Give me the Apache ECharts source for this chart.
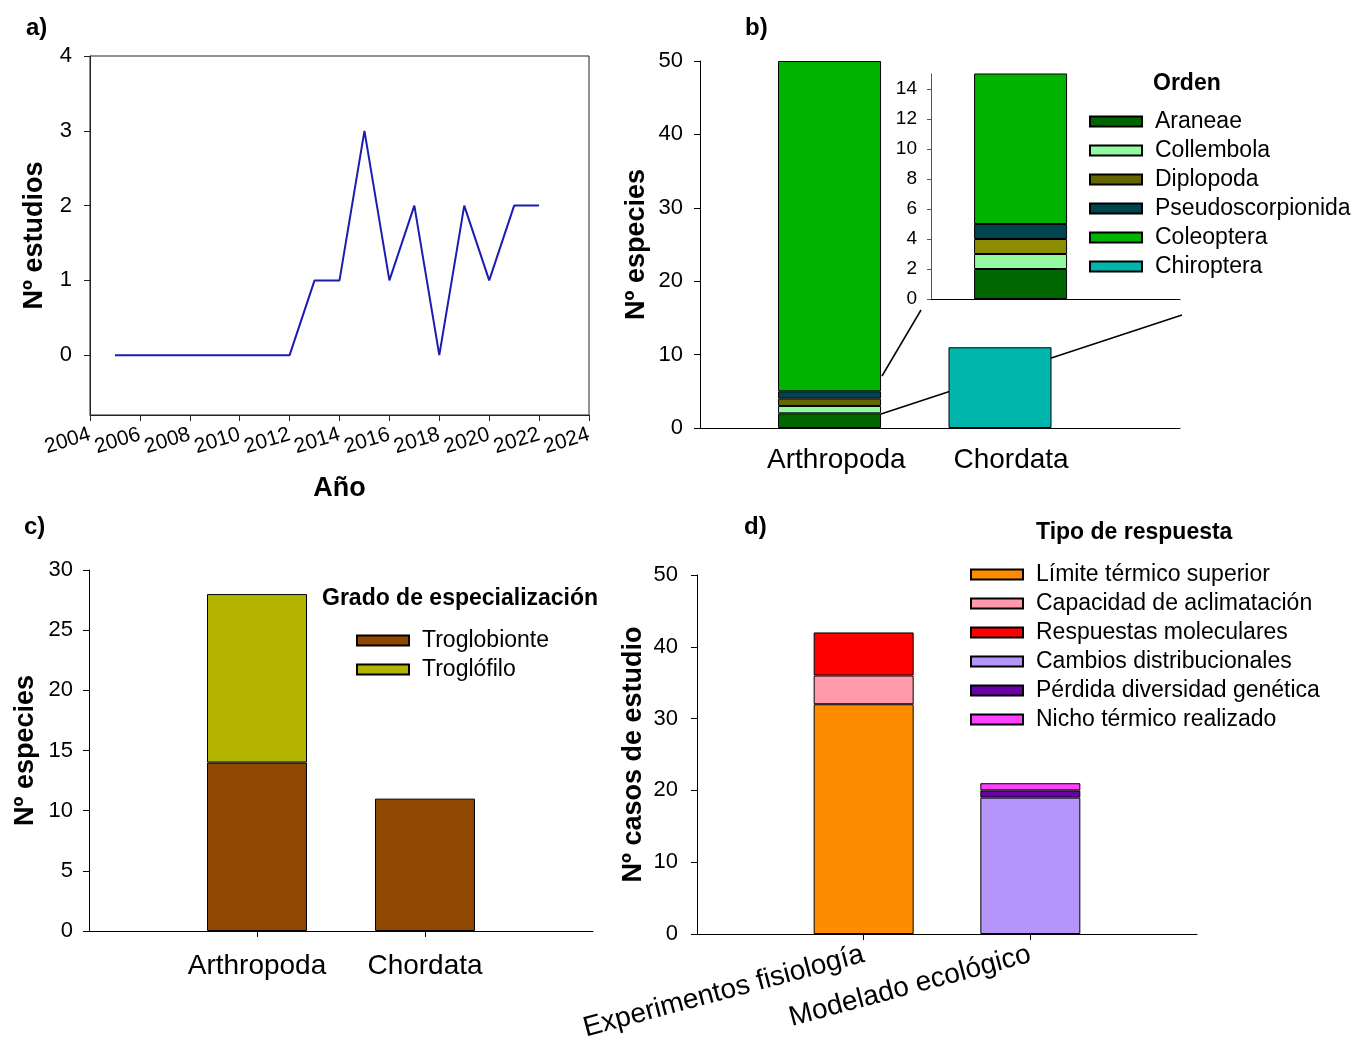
<!DOCTYPE html>
<html>
<head>
<meta charset="utf-8">
<script src="https://cdn.jsdelivr.net/npm/echarts@6/dist/echarts.min.js"></script>
<style>
  html, body { margin: 0; padding: 0; background: #fff; }
  #main { width: 1368px; height: 1041px; }
</style>
</head>
<body>
<div id="main"></div>
<script>
// a) studies per year
var years = [2005, 2006, 2007, 2008, 2009, 2010, 2011, 2012, 2013, 2014, 2015, 2016, 2017, 2018, 2019, 2020, 2021, 2022];
var studies = [0, 0, 0, 0, 0, 0, 0, 0, 1, 1, 3, 1, 2, 0, 2, 1, 2, 2];
var yearTicks = [2004, 2006, 2008, 2010, 2012, 2014, 2016, 2018, 2020, 2022, 2024];

// b) species per order
var phyla = ['Arthropoda', 'Chordata'];
var orden = ['Araneae', 'Collembola', 'Diplopoda', 'Pseudoscorpionida', 'Coleoptera', 'Chiroptera'];
var ordenCount = [2, 1, 1, 1, 45, 11];
var ordenPhylum = [0, 0, 0, 0, 0, 1];
var ordenColor = ['#006600', '#93fb9f', '#666600', '#00444f', '#00b300', '#00b5ab'];
var ordenInsetColor = ['#006600', '#93fb9f', '#8c8c00', '#00444f', '#00b300', '#00b5ab'];

// c) degree of specialization (Arthropoda, Chordata)
var grado = ['Troglobionte', 'Troglófilo'];
var gradoCount = [[14, 11], [14, 0]];
var gradoColor = ['#904800', '#b4b400'];

// d) response type
var estudio = ['Experimentos fisiología', 'Modelado ecológico'];
var respuesta = ['Límite térmico superior', 'Capacidad de aclimatación', 'Respuestas moleculares',
  'Cambios distribucionales', 'Pérdida diversidad genética', 'Nicho térmico realizado'];
var respuestaCount = [32, 4, 6, 19, 1, 1];
var respuestaEstudio = [0, 0, 0, 1, 1, 1];
var respuestaColor = ['#ff8c00', '#ff99ab', '#ff0000', '#b496fa', '#6a00a8', '#ff40ff'];

var FONT = 'Liberation Sans';
var black = '#000';

// [value, slot] rows so the value column is the stacked one
function slots(values) {
  return values.map(function (v, i) { return [v > 0 ? v : '-', i + 1]; });
}
function single(index, value) {
  return slots([0, 1].map(function (k) { return k === index ? value : 0; }));
}

function valAxis(grid, min, max, interval, name, gap, extra) {
  var ax = {
    type: 'value', gridIndex: grid, min: min, max: max, interval: interval,
    name: name, nameLocation: 'middle', nameGap: gap,
    nameTextStyle: { fontSize: 27, fontWeight: 'bold', color: black, fontFamily: FONT },
    axisLine: { show: true, onZero: false, lineStyle: { color: black, width: 1 } },
    axisTick: { show: true, length: 6, lineStyle: { color: black } },
    axisLabel: { fontSize: 22, color: black, margin: 17, fontFamily: FONT },
    splitLine: { show: false }
  };
  return Object.assign(ax, extra || {});
}

function catAxis(grid, min, max, labels, opts) {
  opts = opts || {};
  return {
    type: 'value', gridIndex: grid, min: min, max: max,
    axisLine: { show: true, onZero: false, lineStyle: { color: black, width: 1 } },
    axisTick: { show: opts.ticks !== false, length: 6, customValues: [1, 2], lineStyle: { color: black } },
    axisLabel: {
      show: labels !== null, customValues: opts.labelAt || [1, 2], fontSize: 28, color: black,
      margin: opts.margin || 18, rotate: opts.rotate || 0, fontFamily: FONT,
      formatter: function (v) { return labels ? labels[Math.round(v) - 1] : ''; }
    },
    splitLine: { show: false }
  };
}

function bar(name, grid, stack, width, color, data, extra) {
  return Object.assign({
    type: 'bar', name: name, xAxisIndex: grid, yAxisIndex: grid,
    stack: stack, barWidth: width, encode: { x: 1, y: 0 },
    itemStyle: { color: color, borderColor: black, borderWidth: 1 },
    data: data
  }, extra || {});
}

var series = [];

series.push({
  type: 'line', xAxisIndex: 0, yAxisIndex: 0,
  data: years.map(function (y, i) { return [y, studies[i]]; }),
  symbol: 'none', lineStyle: { color: '#1c1cb0', width: 2 }
});

orden.forEach(function (name, i) {
  series.push(bar(name, 1, 'b', 103, ordenColor[i], single(ordenPhylum[i], ordenCount[i])));
  if (ordenPhylum[i] === 0) {
    series.push(bar(name, 2, 'inset', 93, ordenInsetColor[i], single(ordenPhylum[i], ordenCount[i]), { clip: true }));
  }
});

grado.forEach(function (name, i) {
  series.push(bar(name, 3, 'c', 100, gradoColor[i], slots(gradoCount[i])));
});

respuesta.forEach(function (name, i) {
  series.push(bar(name, 4, 'd', 100, respuestaColor[i], single(respuestaEstudio[i], respuestaCount[i])));
});

function legend(names, left, top) {
  return {
    data: names, orient: 'vertical', left: left, top: top, itemGap: 0, padding: 0,
    itemWidth: 52, itemHeight: 10, icon: 'rect', selectedMode: false,
    textStyle: { fontSize: 23, color: black, lineHeight: 29, fontFamily: FONT, padding: [0, 0, 0, 8] }
  };
}

function label(text, left, top, size) {
  return { text: text, left: left, top: top, padding: 0,
    textStyle: { fontSize: size, fontWeight: 'bold', color: black, fontFamily: FONT } };
}

function grid(left, top, width, height, extra) {
  return Object.assign({ left: left, top: top, width: width, height: height, outerBoundsMode: 'none' }, extra || {});
}

var chart = echarts.init(document.getElementById('main'));
chart.setOption({
  animation: false,
  backgroundColor: '#fff',
  textStyle: { fontFamily: FONT },
  title: [
    label('a)', 26, 16, 24), label('b)', 745, 16, 24), label('c)', 24, 515, 24), label('d)', 744, 515, 24),
    label('Orden', 1153, 72, 23),
    label('Grado de especialización', 322, 587, 23),
    label('Tipo de respuesta', 1036, 521, 23)
  ],
  legend: [
    legend(orden, 1089, 107),
    legend(grado, 356, 626),
    legend(respuesta, 970, 560)
  ],
  grid: [
    grid(90, 56, 499, 359, { show: true, borderColor: '#222', borderWidth: 1 }),
    grid(700, 61, 480, 367),
    grid(931, 74, 249, 225),
    grid(89, 570, 504, 361),
    grid(697, 575, 500, 359)
  ],
  xAxis: [
    {
      type: 'value', gridIndex: 0, min: 2004, max: 2024, interval: 2,
      name: 'Año', nameLocation: 'middle', nameGap: 60,
      nameTextStyle: { fontSize: 27, fontWeight: 'bold', color: black, fontFamily: FONT },
      axisLine: { show: true, onZero: false, lineStyle: { color: '#222' } },
      axisTick: { length: 6, customValues: yearTicks, lineStyle: { color: '#222' } },
      axisLabel: {
        fontSize: 21, color: black, rotate: 17, margin: 19, fontFamily: FONT,
        customValues: yearTicks, hideOverlap: false, showMinLabel: true, showMaxLabel: true,
        formatter: function (v) { return String(v); }
      },
      splitLine: { show: false }
    },
    catAxis(1, 0.24, 3.056, phyla, { ticks: false, margin: 18, labelAt: [1.04, 2.065] }),
    catAxis(2, 0, 2.78, null, { ticks: false }),
    catAxis(3, 0, 3, phyla, { margin: 21 }),
    catAxis(4, 0, 3, estudio, { margin: 20, rotate: 15 })
  ],
  yAxis: [
    valAxis(0, -0.8, 4, 1, 'Nº estudios', 42, {
      axisLabel: { fontSize: 22, color: black, margin: 18, customValues: [0, 1, 2, 3, 4], fontFamily: FONT },
      axisTick: { length: 6, customValues: [0, 1, 2, 3, 4], lineStyle: { color: '#222' } },
      axisLine: { show: true, onZero: false, lineStyle: { color: '#222' } }
    }),
    valAxis(1, 0, 50, 10, 'Nº especies', 50),
    valAxis(2, 0, 15, 1, '', 0, {
      axisTick: { length: 4, customValues: [0, 2, 4, 6, 8, 10, 12, 14], lineStyle: { color: '#555' } },
      axisLine: { show: true, onZero: false, lineStyle: { color: '#555' } },
      axisLabel: { fontSize: 19, color: black, margin: 14, customValues: [0, 2, 4, 6, 8, 10, 12, 14], fontFamily: FONT }
    }),
    valAxis(3, 0, 30, 5, 'Nº especies', 50, {
      axisLabel: { fontSize: 22, color: black, margin: 16, fontFamily: FONT }
    }),
    valAxis(4, 0, 50, 10, 'Nº casos de estudio', 50, {
      axisLabel: { fontSize: 22, color: black, margin: 19, fontFamily: FONT }
    })
  ],
  graphic: [
    { type: 'line', z: 0, shape: { x1: 882, y1: 376, x2: 921, y2: 310 }, style: { stroke: black, lineWidth: 1.5 } },
    { type: 'line', z: 0, shape: { x1: 881, y1: 414, x2: 1182, y2: 315 }, style: { stroke: black, lineWidth: 1.5 } }
  ],
  series: series
});
</script>
</body>
</html>
